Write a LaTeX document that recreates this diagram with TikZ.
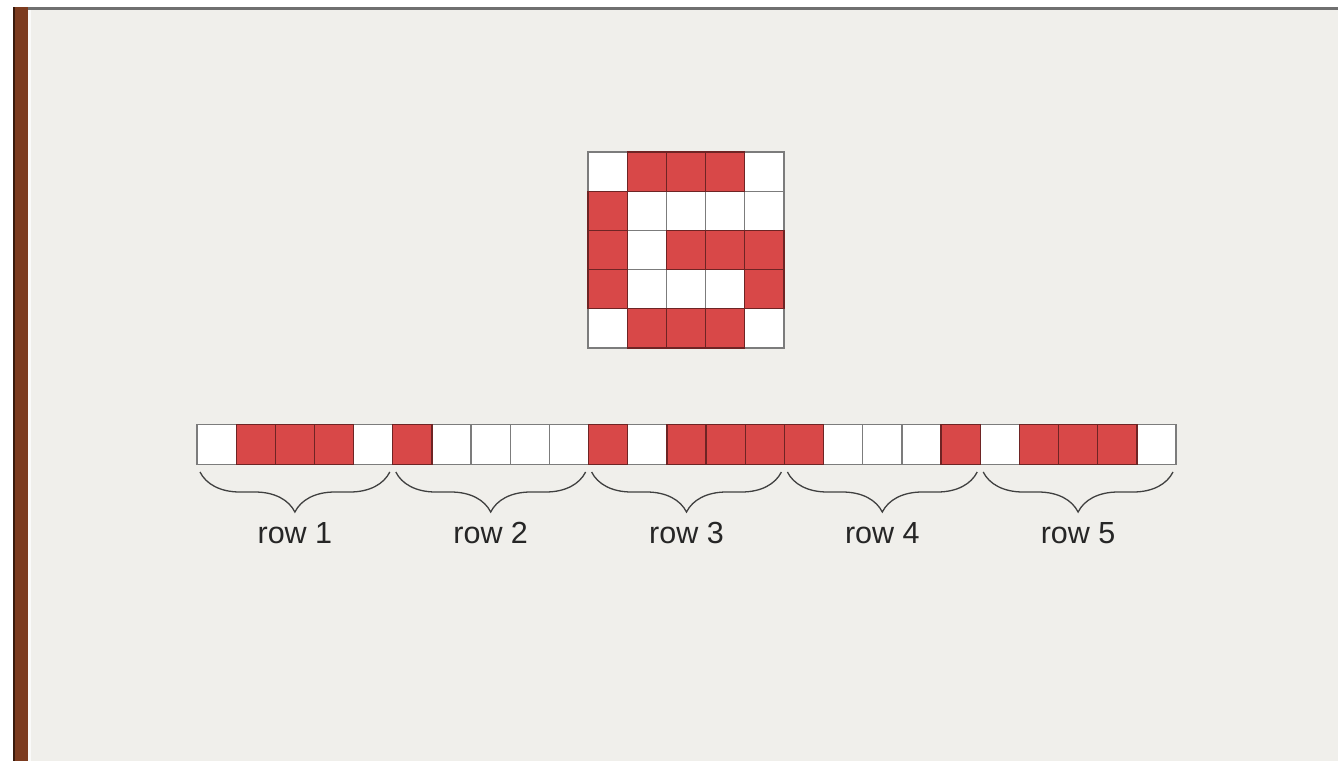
\documentclass[tikz,border=0pt]{standalone}
\usepackage{fontspec}
\setmainfont{Liberation Sans}
\usetikzlibrary{decorations.pathreplacing}
\definecolor{bg}{HTML}{F0EFEB}
\definecolor{cellred}{HTML}{D84848}
\definecolor{redline}{HTML}{6E2424}
\definecolor{greyline}{HTML}{7C7C7C}
\definecolor{barbrown}{HTML}{7C3B1F}
\definecolor{bardark}{HTML}{3A1A0C}
\definecolor{topline}{HTML}{707070}
\begin{document}
\begin{tikzpicture}[x=1pt,y=-1pt,
  whitecell/.style={fill=white,draw=greyline,line width=1.3pt},
  redcell/.style={fill=cellred,draw=redline,line width=1.3pt},
  bracestyle/.style={decorate,decoration={brace,mirror,amplitude=40pt},draw=black!75,line width=1.3pt},
  rowlabel/.style={font=\fontsize{30.5}{32}\selectfont,text=black!85,inner sep=0pt}]
\useasboundingbox (0,0) rectangle (1338,761);
\fill[white] (0,0) rectangle (1338,761);
\fill[bg] (28,9) rectangle (1338,761);
\fill[topline] (13,7) rectangle (1338,9.5);
\fill[barbrown] (13,7) rectangle (27.5,761);
\fill[bardark] (13,7) rectangle (15,761);
\fill[white!70!bg] (27.5,9.5) rectangle (31,761);
\def\pat{{0,1,1,1,0,1,0,0,0,0,1,0,1,1,1,1,0,0,0,1,0,1,1,1,0}}
% square grid
\foreach \pass/\sty in {0/whitecell,1/redcell}{
  \foreach \i in {0,...,24}{
    \pgfmathtruncatemacro\v{\pat[\i]}
    \pgfmathtruncatemacro\rr{int(\i/5)}
    \pgfmathtruncatemacro\cc{mod(\i,5)}
    \ifnum\v=\pass
      \path[\sty] ({588+39.2*\cc},{152+39.2*\rr}) rectangle +(39.2,39.2);
      \path[\sty] ({197+39.16*\i},424.5) rectangle +(39.16,40);
    \fi
  }
}
% braces and labels
\foreach \k in {1,...,5}{
  \coordinate (bs\k) at ({197+195.8*(\k-1)+3},472);
  \coordinate (be\k) at ({197+195.8*\k-3},472);
  \draw[bracestyle] (bs\k) -- (be\k);
  \node[rowlabel] (lab\k) at ({197+195.8*(\k-0.5)},533) {row \k};
}
\end{tikzpicture}
\end{document}
